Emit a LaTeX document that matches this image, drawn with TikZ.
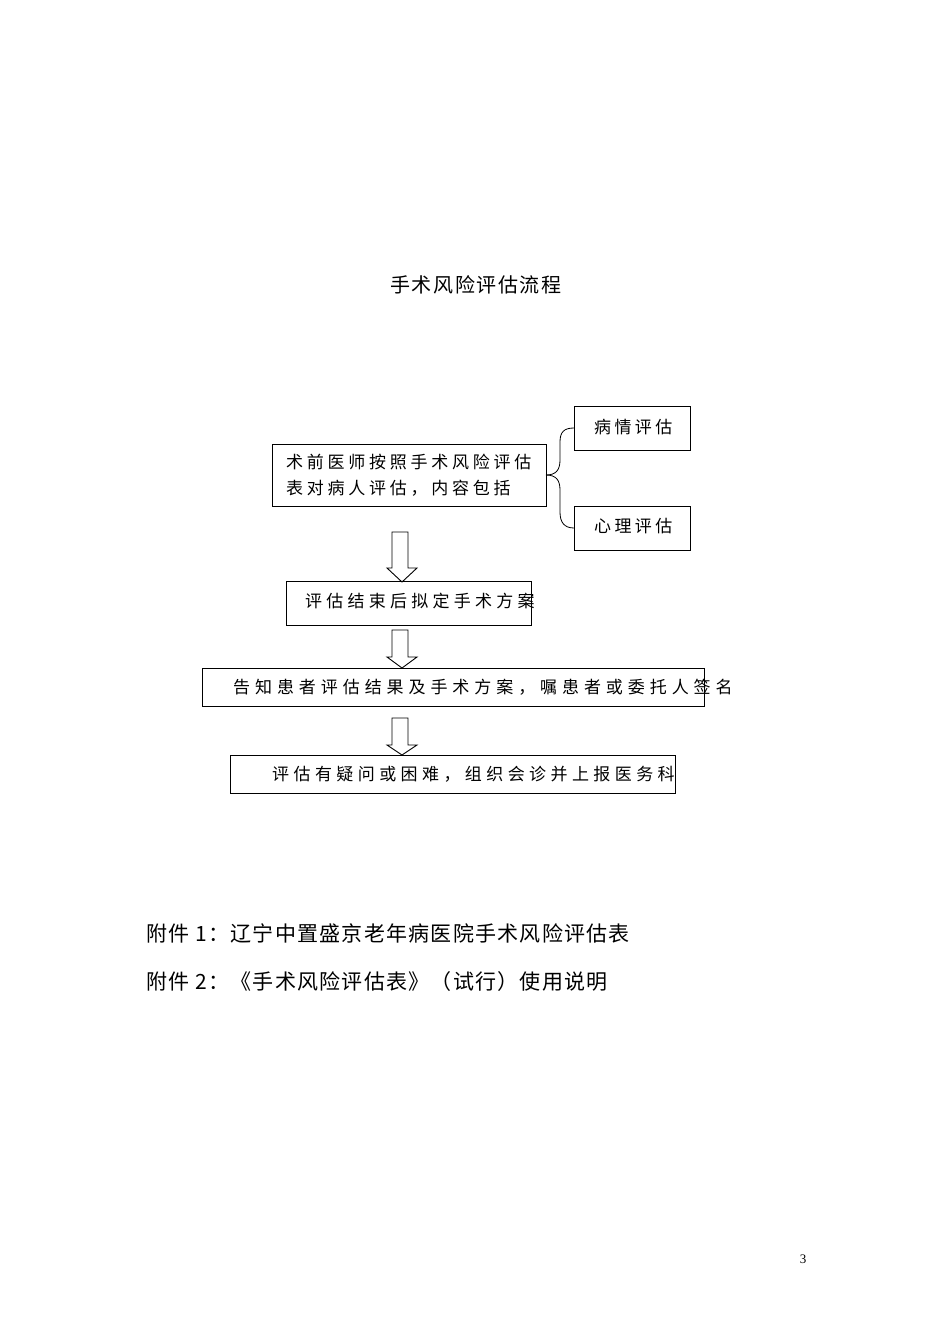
\documentclass[tikz,border=0pt]{standalone}
\usepackage{fontspec}
\setmainfont{Liberation Serif}
\newfontfamily\cjk{Noto Sans CJK SC}
\newcommand{\ls}[1]{\cjk\addfontfeature{LetterSpace=#1}}
\begin{document}
\begin{tikzpicture}[x=1pt,y=-1pt,
  bx/.style={draw,line width=1pt},
  txt/.style={anchor=west,inner sep=0pt,font=\cjk\fontsize{17}{20}\selectfont},
  harrow/.style={draw,line width=0.9pt,fill=white}]
\useasboundingbox (0,0) rectangle (950,1344);
\node[anchor=center,inner sep=0pt,font=\cjk\fontsize{20}{24}\selectfont] (title) at (476,285) {\addfontfeature{LetterSpace=8}手术风险评估流程};
% box1
\draw[bx] (272,444) rectangle (546,506);
\node[txt,font=\ls{22}\fontsize{17}{26}\selectfont,align=left] (t1) at (286,475) {术前医师按照手术风险评估\\表对病人评估，内容包括};
\draw[bx] (574,406) rectangle (690,450);
\node[txt,font=\ls{20}\fontsize{17}{20}\selectfont] (t2) at (594,427) {病情评估};
\draw[bx] (574,506) rectangle (690,550);
\node[txt,font=\ls{20}\fontsize{17}{20}\selectfont] (t3) at (594,526) {心理评估};
\coordinate (bA) at (546,475);
\draw[line width=0.8pt] (bA) .. controls (556,475) and (560,470) .. (560,460) -- (560,442) .. controls (560,432) and (564,428) .. (574,428);
\draw[line width=0.8pt] (bA) .. controls (556,475) and (560,480) .. (560,490) -- (560,512) .. controls (560,522) and (564,528) .. (574,528);
% arrows
\draw[harrow] (392,532) -- (408,532) -- (408,568) -- (417,568) -- (402,582) -- (387,568) -- (392,568) -- cycle;
\draw[bx] (286,581) rectangle (531,625);
\node[txt,font=\ls{25}\fontsize{17}{20}\selectfont] (t4) at (305,601) {评估结束后拟定手术方案};
\draw[harrow] (392,630) -- (408,630) -- (408,657) -- (417,657) -- (402,668) -- (387,657) -- (392,657) -- cycle;
\draw[bx] (202,668) rectangle (704,706);
\node[txt,font=\ls{29}\fontsize{17}{20}\selectfont] (t5) at (233,687) {告知患者评估结果及手术方案，嘱患者或委托人签名};
\draw[harrow] (392,718) -- (408,718) -- (408,745) -- (417,745) -- (402,755) -- (387,745) -- (392,745) -- cycle;
\draw[bx] (230,755) rectangle (675,793);
\node[txt,font=\ls{26}\fontsize{17}{20}\selectfont] (t6) at (272,774) {评估有疑问或困难，组织会诊并上报医务科};
% annexes
\node[txt,font=\cjk\fontsize{21}{24}\selectfont\addfontfeature{LetterSpace=6}] (a1) at (146,933) {附件 1：辽宁中置盛京老年病医院手术风险评估表};
\node[txt,font=\cjk\fontsize{21}{24}\selectfont\addfontfeature{LetterSpace=6}] (a2) at (146,982) {附件 2：《手术风险评估表》（试行）使用说明};
\node[inner sep=0pt,font=\fontsize{13}{15}\selectfont] (pg) at (803,1259) {3};
\end{tikzpicture}
\end{document}
